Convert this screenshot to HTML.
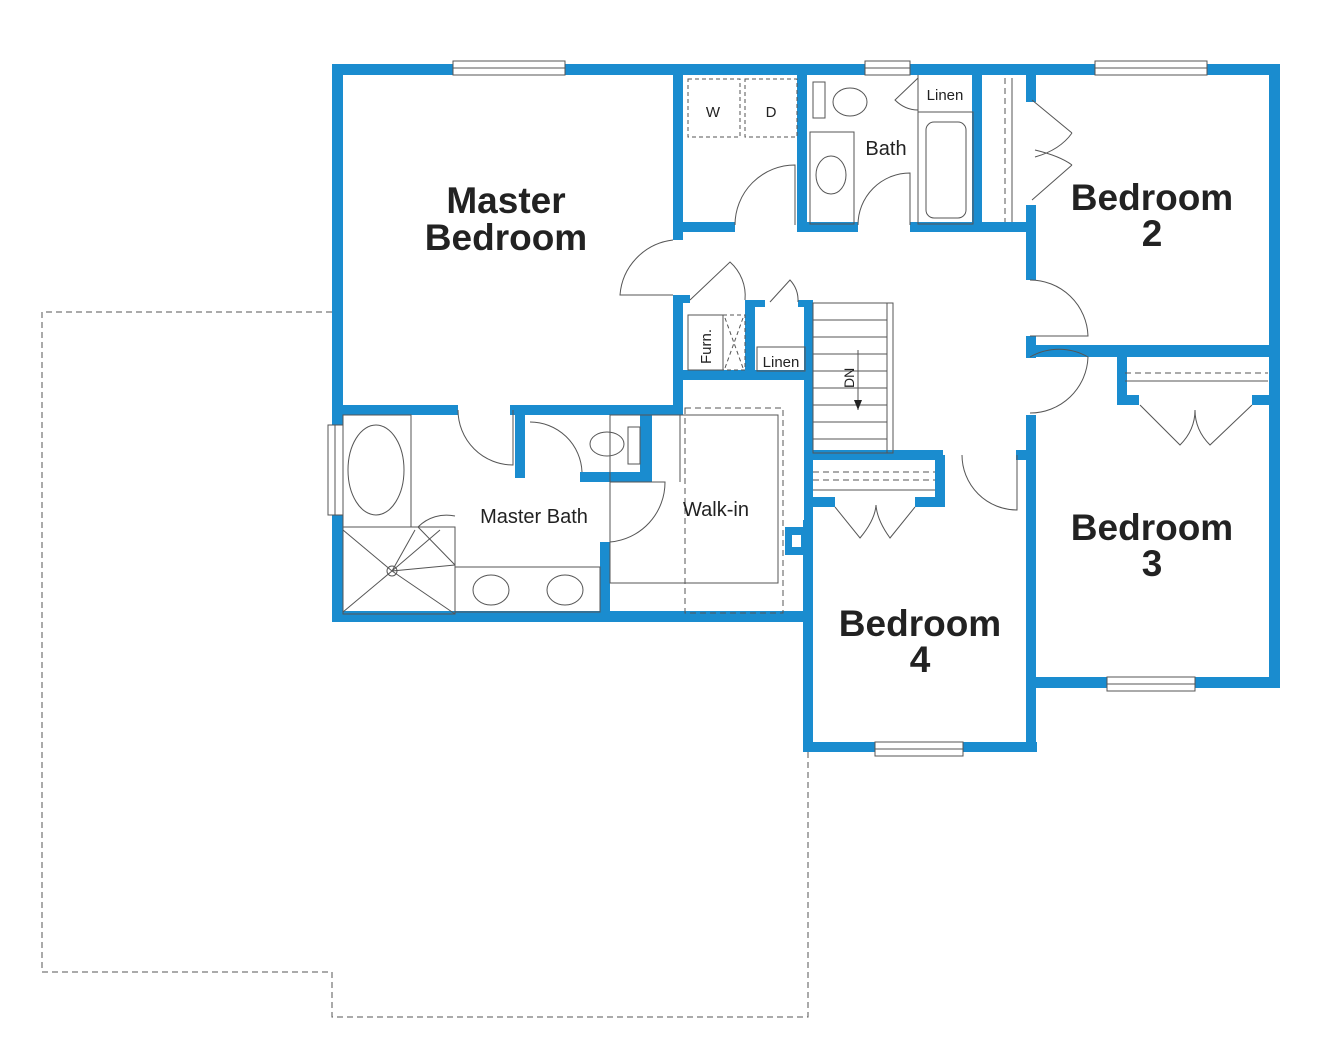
<!DOCTYPE html>
<html><head><style>
html,body{margin:0;padding:0;background:#fff;}
svg{display:block;}
.t{font-family:"Liberation Sans",sans-serif;fill:#222;}
.b{font-weight:bold;font-size:37px;}
.s{font-size:20px;}
</style></head><body>
<svg width="1319" height="1058" viewBox="0 0 1319 1058" xmlns="http://www.w3.org/2000/svg">
<!-- dashed outline -->
<path d="M332 312 H42 V972 H332 V1017 H808 V752" fill="none" stroke="#555" stroke-width="1" stroke-dasharray="6,4"/>
<g fill="#1a8ccf">
<!-- outer -->
<rect x="332" y="64" width="948" height="11"/>
<rect x="332" y="64" width="11" height="558"/>
<rect x="1269" y="64" width="11" height="624"/>
<rect x="332" y="611" width="481" height="11"/>
<rect x="803" y="520" width="10" height="232"/>
<rect x="803" y="742" width="234" height="10"/>
<rect x="1026" y="677" width="254" height="11"/>
<rect x="1026" y="415" width="10" height="337"/>
<!-- master right wall -->
<rect x="673" y="75" width="10" height="165"/>
<rect x="673" y="295" width="10" height="120"/>
<rect x="673" y="222" width="62" height="10"/>
<rect x="797" y="75" width="10" height="157"/>
<rect x="797" y="222" width="61" height="10"/>
<rect x="910" y="222" width="126" height="10"/>
<rect x="972" y="75" width="10" height="152"/>
<rect x="1026" y="75" width="10" height="27"/>
<rect x="1026" y="205" width="10" height="75"/>
<rect x="1026" y="336" width="10" height="22"/>
<rect x="1030" y="345" width="250" height="12"/>
<rect x="1117" y="350" width="10" height="55"/>
<rect x="1117" y="395" width="22" height="10"/>
<rect x="1252" y="395" width="20" height="10"/>
<!-- furnace/linen -->
<rect x="673" y="295" width="17" height="8"/>
<rect x="673" y="370" width="140" height="10"/>
<rect x="745" y="300" width="10" height="78"/>
<rect x="745" y="300" width="20" height="7"/>
<rect x="798" y="300" width="15" height="7"/>
<rect x="804" y="300" width="9" height="320"/>
<!-- stair closet -->
<rect x="810" y="450" width="133" height="10"/>
<rect x="935" y="455" width="10" height="52"/>
<rect x="810" y="497" width="25" height="10"/>
<rect x="915" y="497" width="30" height="10"/>
<rect x="1016" y="450" width="20" height="10"/>
<!-- master bath -->
<rect x="332" y="405" width="126" height="10"/>
<rect x="510" y="405" width="173" height="10"/>
<rect x="515" y="410" width="10" height="68"/>
<rect x="640" y="410" width="12" height="72"/>
<rect x="580" y="472" width="72" height="10"/>
<rect x="600" y="542" width="10" height="75"/>
<rect x="785" y="527" width="22" height="28"/>
</g>
<rect x="792" y="535" width="9" height="12" fill="#fff"/>
<g fill="#fff" stroke="#555" stroke-width="1">
<!-- windows -->
<rect x="453" y="61" width="112" height="14"/>
<rect x="865" y="61" width="45" height="14"/>
<rect x="1095" y="61" width="112" height="14"/>
<rect x="328" y="425" width="15" height="90"/>
<rect x="1107" y="677" width="88" height="14"/>
<rect x="875" y="742" width="88" height="14"/>
</g>
<g fill="none" stroke="#555" stroke-width="1">
<line x1="453" y1="68" x2="565" y2="68"/><line x1="865" y1="68" x2="910" y2="68"/><line x1="1095" y1="68" x2="1207" y2="68"/>
<line x1="335" y1="425" x2="335" y2="515"/><line x1="1107" y1="684" x2="1195" y2="684"/><line x1="875" y1="749" x2="963" y2="749"/>
<!-- W D -->
<rect x="688" y="79" width="52" height="58" stroke-dasharray="4,3"/>
<rect x="745" y="79" width="52" height="58" stroke-dasharray="4,3"/>
<!-- door arcs -->
<path d="M735 225 A60 60 0 0 1 795 165 L795 225"/>
<path d="M673 240 A60 60 0 0 0 620 295 L673 295"/>
<path d="M858 225 A52 52 0 0 1 910 173 L910 225"/>
<path d="M1030 280 A58 58 0 0 1 1088 336 L1030 336"/>
<path d="M1030 357 A58 58 0 0 1 1088 357 A58 58 0 0 1 1030 413"/>
<path d="M458 410 A55 55 0 0 0 513 465 L513 410"/>
<path d="M530 422 A52 52 0 0 1 582 472"/>
<path d="M610 482 H665 A60 60 0 0 1 610 542"/>
<path d="M962 455 A55 55 0 0 0 1017 510 L1017 455"/>
<path d="M690 300 L730 262 A45 45 0 0 1 745 300"/>
<path d="M770 302 L790 280 A30 30 0 0 1 798 302"/>
<!-- closet bifolds -->
<path d="M1032 100 L1072 133 M1032 200 L1072 165 M1035 157 Q1060 150 1072 133 M1035 150 Q1060 156 1072 165"/>
<line x1="1005" y1="78" x2="1005" y2="222" stroke-dasharray="6,4"/>
<line x1="1012" y1="78" x2="1012" y2="222"/>
<path d="M1140 405 L1180 445 Q1195 430 1195 410 Q1195 430 1210 445 L1252 405"/>
<line x1="1125" y1="373" x2="1268" y2="373" stroke-dasharray="6,4"/>
<line x1="1125" y1="381" x2="1268" y2="381"/>
<path d="M835 507 L860 538 Q875 520 876 505 Q877 520 890 538 L915 507"/>
<line x1="813" y1="472" x2="935" y2="472" stroke-dasharray="6,4"/>
<line x1="813" y1="480" x2="935" y2="480" stroke-dasharray="6,4"/>
<line x1="813" y1="490" x2="935" y2="490"/>
<!-- stairs -->
<rect x="813" y="303" width="80" height="150"/>
<line x1="887" y1="303" x2="887" y2="453"/>
<g>
<line x1="813" y1="320" x2="887" y2="320"/><line x1="813" y1="337" x2="887" y2="337"/><line x1="813" y1="354" x2="887" y2="354"/><line x1="813" y1="371" x2="887" y2="371"/><line x1="813" y1="388" x2="887" y2="388"/><line x1="813" y1="405" x2="887" y2="405"/><line x1="813" y1="422" x2="887" y2="422"/><line x1="813" y1="439" x2="887" y2="439"/>
</g>
<line x1="858" y1="350" x2="858" y2="410"/>
<!-- bath fixtures -->
<rect x="813" y="82" width="12" height="36"/>
<ellipse cx="850" cy="102" rx="17" ry="14"/>
<rect x="810" y="132" width="44" height="92"/>
<ellipse cx="831" cy="175" rx="15" ry="19"/>
<rect x="918" y="112" width="55" height="112"/>
<rect x="926" y="122" width="40" height="96" rx="8"/>
<line x1="918" y1="112" x2="973" y2="112"/>
<line x1="918" y1="75" x2="918" y2="112"/>
<path d="M918 78 L895 100 Q905 110 918 110"/>
<!-- furn/linen -->
<rect x="688" y="315" width="35" height="55"/>
<rect x="723" y="315" width="22" height="55" stroke-dasharray="4,3"/>
<path d="M725 318 L743 368 M743 318 L725 368" stroke-dasharray="4,3"/>
<rect x="757" y="347" width="48" height="24"/>
<!-- master bath fixtures -->
<rect x="343" y="415" width="68" height="112"/>
<ellipse cx="376" cy="470" rx="28" ry="45"/>
<rect x="343" y="527" width="112" height="87"/>
<path d="M343 530 L392 571 L440 530 M343 612 L392 571 L455 565 M392 571 L455 614 M392 571 L415 530" />
<circle cx="392" cy="571" r="5"/>
<path d="M418 527 A40 40 0 0 1 455 516 M455 565 L418 527"/>
<rect x="455" y="567" width="145" height="45"/>
<ellipse cx="491" cy="590" rx="18" ry="15"/>
<ellipse cx="565" cy="590" rx="18" ry="15"/>
<ellipse cx="607" cy="444" rx="17" ry="12"/>
<rect x="628" y="427" width="12" height="37"/>
<rect x="685" y="408" width="98" height="205" stroke-dasharray="6,4"/>
<rect x="610" y="415" width="168" height="168"/>
<line x1="680" y1="415" x2="680" y2="482"/>
</g>
<polygon points="854,400 862,400 858,410" fill="#222"/>
<text class="t b" x="506" y="213" text-anchor="middle">Master</text>
<text class="t b" x="506" y="250" text-anchor="middle">Bedroom</text>
<text class="t b" x="1152" y="210" text-anchor="middle">Bedroom</text>
<text class="t b" x="1152" y="246" text-anchor="middle">2</text>
<text class="t b" x="1152" y="540" text-anchor="middle">Bedroom</text>
<text class="t b" x="1152" y="576" text-anchor="middle">3</text>
<text class="t b" x="920" y="636" text-anchor="middle">Bedroom</text>
<text class="t b" x="920" y="672" text-anchor="middle">4</text>
<text class="t s" x="534" y="523" text-anchor="middle">Master Bath</text>
<text class="t s" x="716" y="516" text-anchor="middle">Walk-in</text>
<text class="t s" x="886" y="155" text-anchor="middle">Bath</text>
<text class="t" x="945" y="100" text-anchor="middle" font-size="15">Linen</text>
<text class="t" x="781" y="367" text-anchor="middle" font-size="15">Linen</text>
<text class="t" x="713" y="117" text-anchor="middle" font-size="15">W</text>
<text class="t" x="771" y="117" text-anchor="middle" font-size="15">D</text>
<text class="t" font-size="15" transform="translate(711,364) rotate(-90)">Furn.</text>
<text class="t" font-size="14" transform="translate(854,388) rotate(-90)">DN</text>
</svg>
</body></html>
